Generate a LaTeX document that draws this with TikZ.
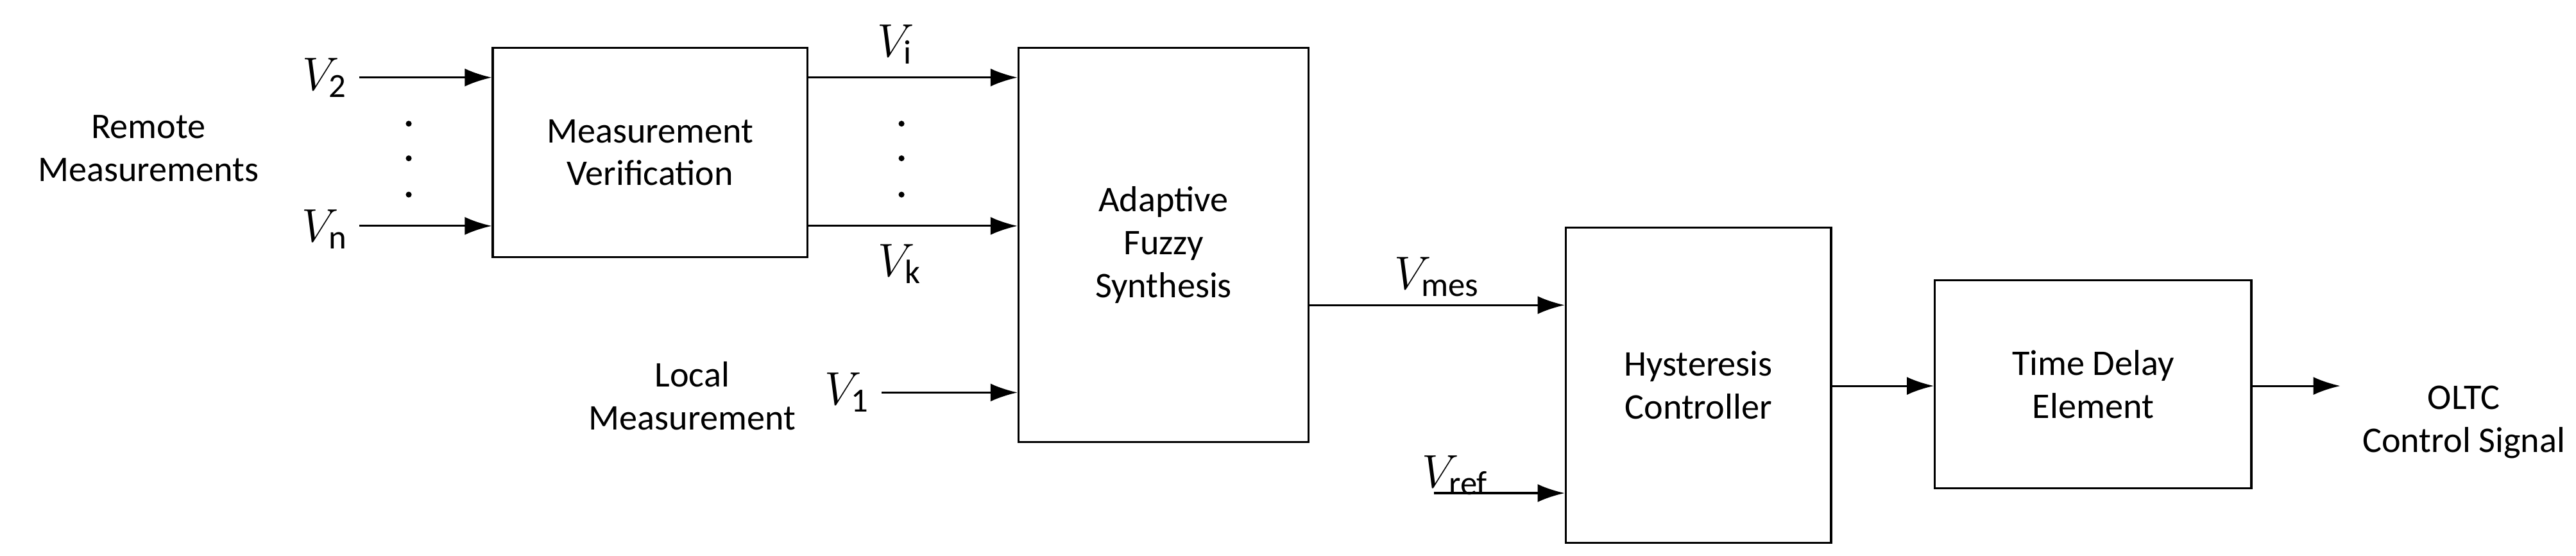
\documentclass[tikz,border=0pt]{standalone}
\usepackage{fontspec}
\setmainfont{Carlito}
\usetikzlibrary{positioning}
\usetikzlibrary{arrows.meta}
\tikzstyle{block} = [
	draw, line width=0.9pt, inner sep=0pt,
	font=\fontsize{16}{19}\selectfont, align=center
]
\tikzstyle{lbl} = [font=\fontsize{16}{19}\selectfont, align=center]
\tikzstyle{var} = [font=\fontsize{21}{24}\selectfont]
\tikzstyle{sig} = [line width=0.9pt, -{Latex[length=12pt,width=8pt]}]
\newcommand{\vsub}[1]{$V_{\textrm{\fontsize{15}{17}\selectfont #1}}$}
\begin{document}
\begin{tikzpicture}[x=0.02569cm, y=-0.02569cm]
	\useasboundingbox (0,0) rectangle (1563,337);
	
	%
	% Blocks
	\node[block, minimum width=191*0.02569cm, minimum height=127*0.02569cm] (mv) at (394.5,92.5) {Measurement\\Verification};
	\node[block, minimum width=176*0.02569cm, minimum height=239*0.02569cm] (afs) at (706,148.5) {Adaptive\\Fuzzy\\Synthesis};
	\node[block, minimum width=161*0.02569cm, minimum height=191*0.02569cm] (hc) at (1030.5,233.5) {Hysteresis\\Controller};
	\node[block, minimum width=192*0.02569cm, minimum height=126*0.02569cm] (td) at (1270,233) {Time Delay\\Element};
	
	%
	% Labels
	\node[lbl] (remote) at (90,90) {Remote\\Measurements};
	\node[lbl] (local) at (420,240) {Local\\Measurement};
	\node[lbl] (oltc) at (1495,256) {OLTC\\Control Signal};
	\node[var] (v2) at (197,47) {\vsub{2}};
	\node[var] (vn) at (197,139) {\vsub{n}};
	\node[var] (vi) at (543,27) {\vsub{i}};
	\node[var] (vk) at (546,160) {\vsub{k}};
	\node[var] (v1) at (514,238) {\vsub{1}};
	\node[var] (vmes) at (872,168) {\vsub{mes}};
	\node[var] (vref) at (883,288) {\vsub{ref}};
	
	%
	% Connectors
	\coordinate (v2s) at (218,47);
	\coordinate (vns) at (218,137);
	\coordinate (v1s) at (535,238);
	\coordinate (vrefs) at (870,299);
	\coordinate (out) at (1420,234);
	\draw[sig] (v2s) -- (v2s -| mv.west);
	\draw[sig] (vns) -- (vns -| mv.west);
	\draw[sig] (mv.east |- v2s) -- (afs.west |- v2s);
	\draw[sig] (mv.east |- vns) -- (afs.west |- vns);
	\draw[sig] (v1s) -- (v1s -| afs.west);
	\draw[sig] (afs.east |- 0,185) -- (hc.west |- 0,185);
	\draw[sig] (vrefs) -- (vrefs -| hc.west);
	\draw[sig] (hc.east |- out) -- (td.west |- out);
	\draw[sig] (td.east |- out) -- (out);
	
	%
	% Dots
	\foreach \y in {75,96,118} {
		\fill (248,\y) circle (1.3pt);
		\fill (547,\y) circle (1.3pt);
	}
\end{tikzpicture}
\end{document}
